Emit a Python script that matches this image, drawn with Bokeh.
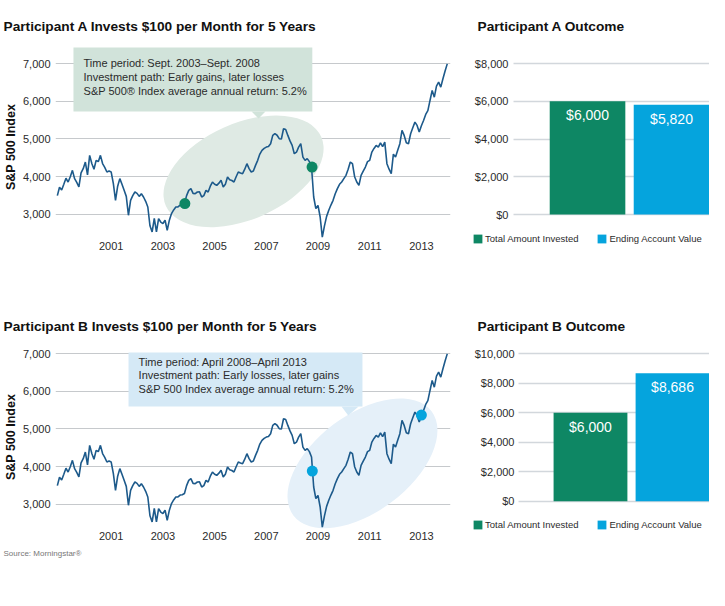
import numpy as np
from bokeh.plotting import figure
from bokeh.models import (FixedTicker, NumeralTickFormatter, Title, Label,
                          BoxAnnotation, PolyAnnotation, Legend, LegendItem)
from bokeh.layouts import row, column
from bokeh.embed import file_html
from bokeh.resources import INLINE
from bokeh.core.properties import value

# ---------------- data ----------------
series_start_year = 1998
series_start_month = 12
sp500_index = [
    3500,
    3720, 3650, 3800, 3960, 3860, 4000, 4170, 3950, 3850, 3730, 4100, 4214,   # 1999
    4390, 4050, 4566, 4350, 4200, 4434, 4400, 4566, 4350, 4250, 4125, 4150,   # 2000
    4125, 3818, 3376, 3750, 3950, 3800, 3640, 3480, 2979, 3376, 3500, 3596,   # 2001
    3560, 3480, 3550, 3463, 3350, 3198, 2700, 2537, 2900, 2540, 2890, 2800,   # 2002
    2760, 2847, 2582, 2850, 3023, 3120, 3198, 3200, 3250, 3260, 3290, 3500,   # 2003
    3640, 3685, 3560, 3553, 3596, 3600, 3463, 3500, 3640, 3596, 3750, 3860,   # 2004
    3800, 3773, 3830, 3905, 3727, 3800, 3992, 3920, 3900, 3860, 4000, 4125,   # 2005
    4100, 4082, 4200, 4346, 4214, 4125, 4150, 4302, 4434, 4600, 4699, 4750,   # 2006
    4786, 4800, 4875, 5095, 5140, 5100, 5008, 5000, 5272, 5250, 5095, 4950,   # 2007
    4830, 4610, 4650, 4786, 4875, 4520, 4434, 4480, 4400, 4257, 3463, 3155,   # 2008
    3243, 2934, 2400, 2700, 2950, 3111, 3250, 3376, 3550, 3685, 3800, 3860,   # 2009
    3950, 4037, 4200, 4390, 4346, 4000, 3860, 3773, 4037, 4150, 4257, 4400,   # 2010
    4434, 4654, 4750, 4830, 4786, 4900, 4800, 4918, 4346, 4200, 4082, 4600,   # 2011
    4520, 4700, 4875, 5228, 5095, 4900, 4875, 5140, 5300, 5448, 5360, 5184,   # 2012
    5350, 5492, 5650, 5750, 6021, 6286, 6108, 6400, 6505, 6373, 6595, 6800,   # 2013
    6990,                                                                     # 2014
]
year_ticks = [2001, 2003, 2005, 2007, 2009, 2011, 2013]
index_ticks = [3000, 4000, 5000, 6000, 7000]

# investment start / end markers (fractional year, index level)
a_marker_dates = [2003.85, 2008.77]
a_marker_values = [3290, 4257]
b_marker_dates = [2008.78, 2013.0]
b_marker_values = [3886, 5370]

a_note = ["Time period: Sept. 2003\u2013Sept. 2008",
          "Investment path: Early gains, later losses",
          "S&P 500\u00ae Index average annual return: 5.2%"]
b_note = ["Time period: April 2008\u2013April 2013",
          "Investment path: Early losses, later gains",
          "S&P 500 Index average annual return: 5.2%"]

outcome_categories = ["Total Amount Invested", "Ending Account Value"]
outcome_a = [6000, 5820]
outcome_b = [6000, 8686]
outcome_a_ticks = [0, 2000, 4000, 6000, 8000]
outcome_b_ticks = [0, 2000, 4000, 6000, 8000, 10000]

# ---------------- style ----------------
FONT = "Liberation Sans"
LINE_BLUE = "#1d5a8b"
GREEN = "#0e8764"
BLUE = "#05a4dd"
GRID = "#c6c9cc"
BAR_GRID = "#d2d7dc"
TXT = "#2b2b2b"

months = np.arange(len(sp500_index))
years_x = series_start_year + (series_start_month - 1) / 12 + months / 12


def style_common(p, standoff):
    p.outline_line_color = None
    p.background_fill_color = "white"
    p.border_fill_color = "white"
    for ax in (p.xaxis, p.yaxis):
        ax.axis_line_color = None
        ax.major_tick_line_color = None
        ax.minor_tick_line_color = None
        ax.major_tick_out = 0
        ax.major_tick_in = 0
        ax.minor_tick_out = 0
        ax.minor_tick_in = 0
        ax.major_label_text_font = FONT
        ax.major_label_text_font_size = "11px"
        ax.major_label_text_color = TXT
    p.xgrid.grid_line_color = None
    p.title.text_font = FONT
    p.title.text_font_style = "bold"
    p.title.text_font_size = "13.7px"
    p.title.text_color = "#111111"
    p.title.align = "left"
    p.title.standoff = standoff


def line_chart(title, title_standoff, dates, vals, dot_color, ell, ell_color,
               box, box_color, pointer, note_x, note_ys, note):
    p = figure(width=466, height=290, output_backend="svg", toolbar_location=None,
               x_range=(1998.845, 2014.126), y_range=(2099, 7477),
               min_border_left=55, min_border_right=16, min_border_top=45,
               min_border_bottom=42, title=title)
    style_common(p, title_standoff)
    p.title.offset = -52
    p.yaxis.ticker = FixedTicker(ticks=index_ticks)
    p.yaxis.formatter = NumeralTickFormatter(format="0,0")
    p.yaxis.major_label_standoff = 5
    p.yaxis.axis_label = "S&P 500 Index"
    p.yaxis.axis_label_text_font = FONT
    p.yaxis.axis_label_text_font_style = "bold"
    p.yaxis.axis_label_text_font_size = "12.5px"
    p.yaxis.axis_label_text_color = "#111111"
    p.yaxis.axis_label_standoff = 2
    p.xaxis.ticker = FixedTicker(ticks=year_ticks)
    p.xaxis.major_label_standoff = -7
    p.ygrid.ticker = FixedTicker(ticks=index_ticks)
    p.ygrid.grid_line_color = GRID
    p.ygrid.grid_line_width = 1.2

    cx, cy, w, h, ang = ell
    p.ellipse(x=[cx], y=[cy], width=w, height=h, angle=np.radians(ang),
              width_units="screen", height_units="screen",
              fill_color=ell_color, line_color=None)
    p.line(years_x, sp500_index, line_color=LINE_BLUE, line_width=1.6)
    p.scatter(dates, vals, size=11, fill_color=dot_color, line_color=None)

    l, r, b, t = box
    p.add_layout(BoxAnnotation(left=l, right=r, bottom=b, top=t,
                               fill_color=box_color, fill_alpha=1, line_color=None,
                               level="overlay"))
    px, py = pointer
    p.add_layout(PolyAnnotation(xs=px, ys=py, fill_color=box_color, fill_alpha=1,
                                line_color=None, level="overlay"))
    for yy, txt in zip(note_ys, note):
        p.add_layout(Label(x=note_x, y=yy, text=txt, text_font=FONT,
                           text_font_size="11px", text_color=TXT,
                           text_baseline="middle", level="overlay"))
    return p


def bar_chart(title, title_standoff, vals, ticks, yr, xr, grid_from, label_standoff,
              legend_loc):
    p = figure(width=243, height=290, output_backend="svg", toolbar_location=None,
               x_range=xr, y_range=yr,
               min_border_left=4, min_border_right=0, min_border_top=45,
               min_border_bottom=42, title=title)
    style_common(p, title_standoff)
    p.title.offset = 7
    p.xaxis.visible = False
    p.yaxis.ticker = FixedTicker(ticks=ticks)
    p.yaxis.formatter = NumeralTickFormatter(format="$0,0")
    p.yaxis.major_label_standoff = label_standoff
    p.ygrid.ticker = FixedTicker(ticks=ticks)
    p.ygrid.grid_line_color = BAR_GRID
    p.ygrid.grid_line_width = 1.5
    p.ygrid.cross_bounds = (grid_from, xr[1])

    items = []
    for i, (cat, v, col) in enumerate(zip(outcome_categories, vals, [GREEN, BLUE])):
        r = p.vbar(x=[i + 1], top=[v], bottom=0, width=0.9, fill_color=col, line_color=None)
        items.append(LegendItem(label=cat, renderers=[r]))
    p.text(x=[1, 2], y=vals, text=[f"${v:,}" for v in vals],
           text_font=value(FONT), text_font_size="14px", text_color="white",
           text_align="center", text_baseline="top", y_offset=6)
    leg = Legend(items=items, orientation="horizontal", location=legend_loc,
                 padding=0, margin=0, spacing=18, label_standoff=2,
                 glyph_width=11, glyph_height=11, label_height=11,
                 label_text_font=FONT, label_text_font_size="9.5px",
                 label_text_color=TXT, border_line_color=None,
                 background_fill_alpha=0)
    p.add_layout(leg)
    return p


pA = line_chart("Participant A Invests $100 per Month for 5 Years", 24,
                a_marker_dates, a_marker_values, GREEN,
                (2006.12, 4143, 170, 96, 24), "#dfeae4",
                (1999.54, 2008.78, 5730, 7423), "#d1e3da",
                ([2006.43, 2006.97, 2006.70], [5730, 5730, 5545]),
                1999.93, [7026, 6630, 6259], a_note)

pB = line_chart("Participant B Invests $100 per Month for 5 Years", 4,
                b_marker_dates, b_marker_values, BLUE,
                (2010.72, 4090, 173, 97, 37), "#e5f0f9",
                (2001.67, 2010.72, 5598, 7026), "#d5e9f6",
                ([2009.91, 2010.57, 2010.17], [5598, 5598, 5360]),
                2002.06, [6788, 6418, 6048], b_note)
pB.add_layout(Title(text="Source: Morningstar\u00ae", align="left", offset=-52,
                    text_font=FONT, text_font_size="8px",
                    text_font_style="normal", text_color="#777777", standoff=8),
              "below")

bA = bar_chart("Participant A Outcome", 24, outcome_a, outcome_a_ticks,
               (-1801, 8954), (-0.393, 2.452), 0.119, -38, (2, 4))
bB = bar_chart("Participant B Outcome", 4, outcome_b, outcome_b_ticks,
               (-2530, 11241), (-0.463, 2.451), 0.122, -44, (2, 8))

layout = column(row(pA, bA), row(pB, bB))
open("out.html", "w").write(file_html(layout, INLINE))
